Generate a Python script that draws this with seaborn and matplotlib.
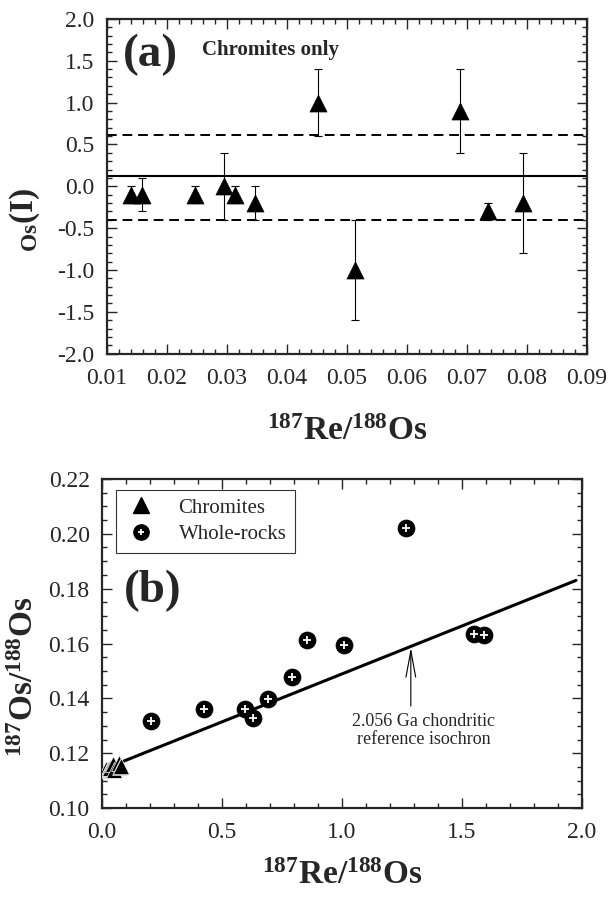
import matplotlib
matplotlib.use('Agg')
import matplotlib.pyplot as plt
import seaborn as sns
import pandas as pd
from matplotlib.lines import Line2D
from matplotlib.ticker import MultipleLocator, FormatStrFormatter

# panel (a): gamma-Os(I) of chromites vs 187Re/188Os
re_os_a = [0.0140, 0.0158, 0.0247, 0.0295, 0.0314, 0.0346, 0.0452, 0.0513, 0.0689, 0.0736, 0.0794]
gamma_os = [-0.1, -0.1, -0.1, 0.0, -0.1, -0.2, 1.0, -1.0, 0.9, -0.3, -0.2]
gamma_err = [0.1, 0.2, 0.1, 0.4, 0.1, 0.2, 0.4, 0.6, 0.5, 0.1, 0.6]
gamma_mean = 0.12
gamma_band = [0.61, -0.40]

# panel (b): isochron diagram
chr_re_os = [0.0140, 0.0158, 0.0247, 0.0295, 0.0314, 0.0346, 0.0452, 0.0513, 0.0689, 0.0736, 0.0794]
chr_os_os = [0.1140, 0.1142, 0.1144, 0.1148, 0.1146, 0.1145, 0.1160, 0.1138, 0.1163, 0.1150, 0.1155]
wr_re_os = [0.204, 0.426, 0.596, 0.628, 0.690, 0.790, 0.855, 1.010, 1.266, 1.551, 1.592]
wr_os_os = [0.1317, 0.1362, 0.1363, 0.1329, 0.1399, 0.1477, 0.1611, 0.1596, 0.2020, 0.1634, 0.1632]
iso_x = [0.0, 1.976]
iso_y = [0.1140, 0.1830]

df_a = pd.DataFrame({'x': re_os_a, 'y': gamma_os, 'err': gamma_err})
df_chr = pd.DataFrame({'x': chr_re_os, 'y': chr_os_os})
df_wr = pd.DataFrame({'x': wr_re_os, 'y': wr_os_os})
df_iso = pd.DataFrame({'x': iso_x, 'y': iso_y})

sns.set_style('ticks')
plt.rcParams['font.family'] = ['Liberation Serif', 'DejaVu Serif']
plt.rcParams['mathtext.fontset'] = 'custom'
plt.rcParams['mathtext.rm'] = 'Liberation Serif'
plt.rcParams['mathtext.bf'] = 'Liberation Serif:bold'
plt.rcParams['axes.unicode_minus'] = False

fig = plt.figure(figsize=(6.08, 9.0), dpi=100)
ax1 = fig.add_axes([0.176, 0.607, 0.789, 0.372])
ax2 = fig.add_axes([0.168, 0.102, 0.789, 0.366])

xlabel = r'$\mathbf{^{187}}$Re/$\mathbf{^{188}}$Os'

def style_axis(ax):
    for s in ax.spines.values():
        s.set_linewidth(1.6)
        s.set_visible(True)
    ax.tick_params(which='both', direction='in', top=True, right=True,
                   labelsize=17, width=1.0)
    ax.tick_params(axis='x', pad=10)
    ax.tick_params(axis='y', pad=9)
    ax.tick_params(which='major', length=7)
    ax.tick_params(which='minor', length=3.5)

# ---- panel (a)
ax1.errorbar(df_a['x'], df_a['y'], yerr=df_a['err'], fmt='none', ecolor='black',
             elinewidth=0.8, capsize=3, capthick=0.8, zorder=2)
sns.scatterplot(data=df_a, x='x', y='y', marker='^', s=150, color='black',
                edgecolor='black', linewidth=0.5, ax=ax1, zorder=3)
ax1.axhline(gamma_mean, color='black', lw=1.5)
for v in gamma_band:
    ax1.axhline(v, color='black', lw=1.4, ls=(0, (5, 3)))
ax1.set_xlim(0.01, 0.09)
ax1.set_ylim(-2.0, 2.0)
ax1.xaxis.set_major_locator(MultipleLocator(0.01))
ax1.xaxis.set_minor_locator(MultipleLocator(0.002))
ax1.yaxis.set_major_locator(MultipleLocator(0.5))
ax1.yaxis.set_minor_locator(MultipleLocator(0.1))
ax1.xaxis.set_major_formatter(FormatStrFormatter('%.2f'))
ax1.yaxis.set_major_formatter(FormatStrFormatter('%.1f'))
style_axis(ax1)
ax1.set_xlabel(xlabel, fontsize=24, fontweight='bold', labelpad=20)
ax1.set_ylabel(r'$\mathbf{_{Os}}$(I)', fontsize=24, fontweight='bold')
ax1.yaxis.set_label_coords(-0.135, 0.40)
ax1.text(0.034, 0.893, '(a)', transform=ax1.transAxes, fontsize=34,
         fontweight='bold', va='center', ha='left')
ax1.text(0.198, 0.906, 'Chromites only', transform=ax1.transAxes, fontsize=15,
         fontweight='bold', va='center', ha='left')

# ---- panel (b)
sns.lineplot(data=df_iso, x='x', y='y', color='black', lw=2.2, ax=ax2, zorder=2)
sns.scatterplot(data=df_chr, x='x', y='y', marker='^', s=130, color='black',
                edgecolor='white', linewidth=0.5, ax=ax2, zorder=3)
sns.scatterplot(data=df_wr, x='x', y='y', marker='o', s=150, color='black',
                edgecolor='black', linewidth=0.5, ax=ax2, zorder=3)
sns.scatterplot(data=df_wr, x='x', y='y', marker='+', s=30, color='white',
                linewidth=1.3, ax=ax2, zorder=4)
ax2.annotate('', xy=(1.287, 0.1585), xytext=(1.287, 0.1372),
             arrowprops=dict(arrowstyle='->, head_length=1.9, head_width=0.35',
                             color='black', lw=0.8, mutation_scale=10,
                             shrinkA=0, shrinkB=0))
ax2.text(1.34, 0.1283, '2.056 Ga chondritic\nreference isochron', fontsize=13,
         ha='center', va='center', linespacing=1.1)
ax2.set_xlim(0.0, 2.0)
ax2.set_ylim(0.10, 0.22)
ax2.xaxis.set_major_locator(MultipleLocator(0.5))
ax2.xaxis.set_minor_locator(MultipleLocator(0.1))
ax2.yaxis.set_major_locator(MultipleLocator(0.02))
ax2.yaxis.set_minor_locator(MultipleLocator(0.005))
ax2.xaxis.set_major_formatter(FormatStrFormatter('%.1f'))
ax2.yaxis.set_major_formatter(FormatStrFormatter('%.2f'))
style_axis(ax2)
ax2.set_xlabel(xlabel, fontsize=24, fontweight='bold', labelpad=12)
ax2.set_ylabel(r'$\mathbf{^{187}}$Os/$\mathbf{^{188}}$Os', fontsize=24,
               fontweight='bold')
ax2.yaxis.set_label_coords(-0.13, 0.40)
ax2.text(0.046, 0.66, '(b)', transform=ax2.transAxes, fontsize=34,
         fontweight='bold', va='center', ha='left')

h_chr = Line2D([], [], marker='^', ls='', color='black', ms=11)
h_wr = (Line2D([], [], marker='o', ls='', color='black', ms=11),
        Line2D([], [], marker='+', ls='', color='white', ms=5, mew=1.3))
leg = ax2.legend([h_chr, h_wr], ['Chromites', 'Whole-rocks'], loc='upper left',
                 bbox_to_anchor=(0.029, 0.967), borderaxespad=0, fontsize=15,
                 frameon=True, fancybox=False, edgecolor='black',
                 handlelength=1.6, handletextpad=1.0, borderpad=0.4,
                 labelspacing=0.35)
leg.get_frame().set_linewidth(0.8)

fig.savefig('out.png', dpi=100)
